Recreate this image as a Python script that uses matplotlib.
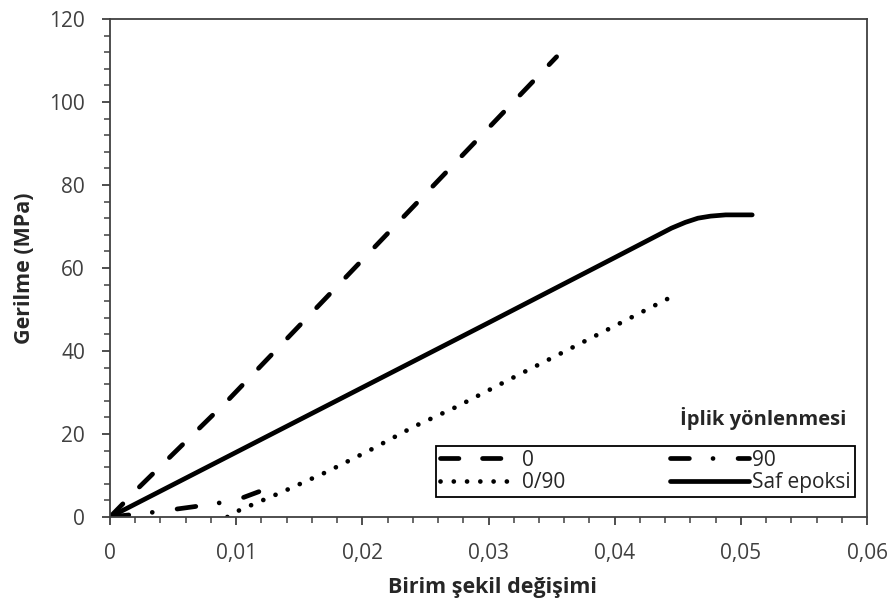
import matplotlib
matplotlib.use("Agg")
import matplotlib.pyplot as plt
from matplotlib.ticker import MultipleLocator, FixedLocator, FixedFormatter

# ---- data ----
x_0 = [0, 0.00225, 0.0094, 0.0175, 0.0354]
y_0 = [0, 7.0, 28.3, 54.0, 110.9]

x_90 = [0, 0.0033, 0.0050, 0.0067, 0.0085, 0.0103, 0.0118]
y_90 = [0, 1.1, 1.8, 2.5, 3.3, 4.4, 6.1]

x_090 = [0.0093, 0.0103, 0.0137, 0.0172, 0.0206, 0.0241, 0.0275, 0.0317, 0.0352, 0.0394, 0.0446]
y_090 = [0, 1.7, 6.1, 10.9, 16.1, 21.8, 26.6, 33.2, 38.6, 45.1, 53.2]

x_saf = [0, 0.01, 0.02, 0.03, 0.04, 0.0445, 0.0456, 0.0466, 0.0476, 0.0488, 0.0509]
y_saf = [0, 15.6, 31.2, 46.8, 62.5, 69.6, 71.0, 72.0, 72.5, 72.8, 72.8]

labels = ["0", "90", "0/90", "Saf epoksi"]
xticks = [0, 0.01, 0.02, 0.03, 0.04, 0.05, 0.06]
xticklabels = ["0", "0,01", "0,02", "0,03", "0,04", "0,05", "0,06"]
yticks = [0, 20, 40, 60, 80, 100, 120]
yticklabels = ["0", "20", "40", "60", "80", "100", "120"]
xlabel = "Birim şekil değişimi"
ylabel = "Gerilme (MPa)"
legend_title = "İplik yönlenmesi"

plt.rcParams['font.family'] = ['Open Sans', 'DejaVu Sans']

W, H = 892, 606
fig = plt.figure(figsize=(W / 100, H / 100), dpi=100)
ax = fig.add_axes([110 / W, 1 - 517 / H, (867 - 110) / W, (517 - 19) / H])

lw = 3.4
h0, = ax.plot(x_0, y_0, color='black', lw=lw, linestyle=(0, (3.9, 5.0)),
              dash_capstyle='round', solid_capstyle='round', label=labels[0])
h90, = ax.plot(x_90, y_90, color='black', lw=lw, linestyle=(0, (4.0, 5.0, 0.01, 5.3)),
               dash_capstyle='round', label=labels[1])
h090, = ax.plot(x_090, y_090, color='black', lw=lw, linestyle=(0, (0.01, 2.8)),
                dash_capstyle='round', label=labels[2])
hsaf, = ax.plot(x_saf, y_saf, color='black', lw=lw, solid_capstyle='round',
                solid_joinstyle='round', label=labels[3])

ax.set_xlim(0, 0.06)
ax.set_ylim(0, 120)
ax.xaxis.set_major_locator(FixedLocator(xticks))
ax.xaxis.set_major_formatter(FixedFormatter(xticklabels))
ax.yaxis.set_major_locator(FixedLocator(yticks))
ax.yaxis.set_major_formatter(FixedFormatter(yticklabels))
ax.xaxis.set_minor_locator(MultipleLocator(0.002))
ax.yaxis.set_minor_locator(MultipleLocator(4))

spine_c = '#404040'
for s in ax.spines.values():
    s.set_color(spine_c)
    s.set_linewidth(1.3)
ax.tick_params(which='major', direction='out', length=6, width=1.3, color=spine_c,
               labelsize=15, labelcolor='#404040')
ax.tick_params(which='minor', direction='out', length=4.5, width=1.1, color=spine_c)
ax.tick_params(axis='y', which='major', pad=12)
ax.tick_params(axis='x', which='major', pad=13)

fig.text(492 / W, 1 - 588 / H, xlabel, ha='center', va='center',
         fontsize=15.5, fontweight='bold', color='#262626')
fig.text(25 / W, 1 - 268 / H, ylabel, ha='center', va='center', rotation=90,
         fontsize=15.5, fontweight='bold', color='#262626')

fig.text(846 / W, 1 - 418 / H, legend_title, ha='right', va='center',
         fontsize=14.5, fontweight='bold', color='#262626')

leg = ax.legend([h0, h090, h90, hsaf], [labels[0], labels[2], labels[1], labels[3]],
                ncol=2, loc='lower left', mode='expand',
                bbox_to_anchor=(436 / W, 1 - 497 / H, (855 - 436) / W, (497 - 435) / H),
                bbox_transform=fig.transFigure, borderaxespad=0,
                handlelength=3.8, handletextpad=0.15, fontsize=15,
                frameon=True, fancybox=False, framealpha=1, edgecolor='black',
                borderpad=0.2, labelspacing=0.05)
leg.get_frame().set_linewidth(1.3)
for t in leg.get_texts():
    t.set_color('#262626')

fig.savefig("out.png", dpi=100)
